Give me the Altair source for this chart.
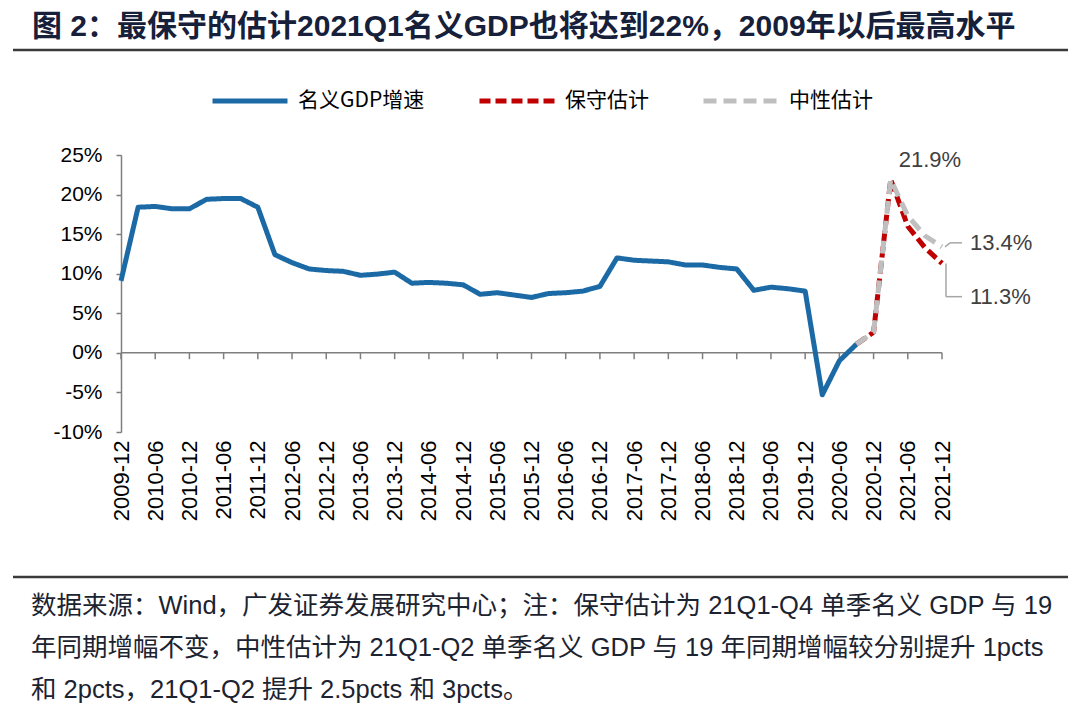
import altair as alt
import pandas as pd

# ---------------- data ----------------
quarters = [f"{y}-{m}" for y in range(2009, 2022) for m in ("03", "06", "09", "12")][3:]  # 2009-12 .. 2021-12
label_q = quarters[::2]

gdp_growth = [9.1, 18.4, 18.5, 18.2, 18.2, 19.4, 19.5, 19.5, 18.4, 12.4,
              11.4, 10.6, 10.4, 10.3, 9.8, 9.95, 10.2, 8.8, 8.9, 8.8,
              8.6, 7.4, 7.6, 7.3, 7.0, 7.5, 7.6, 7.8, 8.4, 12.0,
              11.7, 11.6, 11.5, 11.1, 11.1, 10.8, 10.6, 7.9, 8.3, 8.1,
              7.8, -5.3, -1.0, 1.1]
est_q = quarters[43:]
conservative = [1.1, 2.6, 21.9, 16.0, 13.3, 11.3]
neutral = [1.1, 2.6, 21.9, 17.3, 14.8, 13.4]

series = ["名义GDP增速", "保守估计", "中性估计"]
colors = ["#1B6AA5", "#C00000", "#BFBFBF"]

title_text = "图 2：最保守的估计2021Q1名义GDP也将达到22%，2009年以后最高水平"
note_lines = [
    "数据来源：Wind，广发证券发展研究中心；注：保守估计为 21Q1-Q4 单季名义 GDP 与 19",
    "年同期增幅不变，中性估计为 21Q1-Q2 单季名义 GDP 与 19 年同期增幅较分别提升 1pcts",
    "和 2pcts，21Q1-Q2 提升 2.5pcts 和 3pcts。",
]

# ---------------- tables ----------------
df_blue = pd.DataFrame({"q": quarters[:len(gdp_growth)], "v": gdp_growth, "s": series[0]})
df_red = pd.DataFrame({"q": est_q, "v": conservative, "s": series[1]})
df_gray = pd.DataFrame({"q": est_q, "v": neutral, "s": series[2]})
df_ticks = pd.DataFrame({"q": label_q, "v": 0.0, "v2": -0.8})

FONT = "Liberation Sans, Noto Sans CJK SC"
CJK = "Noto Sans CJK SC, Liberation Sans"

X = alt.X("q:O", title=None,
          scale=alt.Scale(domain=quarters, type="point", padding=0),
          axis=alt.Axis(values=label_q, labelAngle=270, domain=False, ticks=False,
                        labelPadding=8, labelFontSize=22, labelFont=FONT,
                        labelColor="#000000", labelOverlap=False))
Y = alt.Y("v:Q", title=None,
          scale=alt.Scale(domain=[-10, 25], nice=False, zero=False),
          axis=alt.Axis(values=list(range(-10, 30, 5)), labelExpr="datum.value + '%'",
                        grid=False, domainColor="#7F7F7F", domainWidth=1.5,
                        tickColor="#7F7F7F", tickWidth=1.5, tickSize=5,
                        labelFontSize=21, labelFont=FONT, labelColor="#000000",
                        labelPadding=14, labelOverlap=False, labelFlush=False))

legend = alt.Legend(title=None, orient="none", direction="horizontal",
                    legendX=89, legendY=-94, symbolType="stroke",
                    symbolSize=5625, symbolStrokeWidth=5, labelFontSize=21,
                    labelFont=CJK, labelColor="#000000", labelOffset=8,
                    columnPadding=44)
C = alt.Color("s:N", scale=alt.Scale(domain=series, range=colors), legend=legend)
D = alt.StrokeDash("s:N", scale=alt.Scale(domain=series, range=[[1, 0], [11, 5], [13, 7]]),
                   legend=legend)

zero = alt.Chart(pd.DataFrame({"v": [0.0]})).mark_rule(color="#7F7F7F", strokeWidth=1.5).encode(y=Y)
ticks = alt.Chart(df_ticks).mark_rule(color="#7F7F7F", strokeWidth=1.5).encode(x=X, y=Y, y2="v2:Q")

line_kw = dict(strokeWidth=5, strokeJoin="round")
blue = alt.Chart(df_blue).mark_line(**line_kw).encode(x=X, y=Y, color=C, strokeDash=D)
red = alt.Chart(df_red).mark_line(**line_kw).encode(x=X, y=Y, color=C, strokeDash=D)
gray = alt.Chart(df_gray).mark_line(**line_kw).encode(x=X, y=Y, color=C, strokeDash=D)

# annotations
ann_color = "#404040"
hi_level, lo_level = 13.9, 7.1
peak = alt.Chart(pd.DataFrame({"q": [quarters[45]], "v": [neutral[2]], "t": ["21.9%"]})).mark_text(
    align="left", baseline="alphabetic", dx=8, dy=-13, fontSize=22, font=FONT, color=ann_color
).encode(x=X, y=Y, text="t:N")
lab_hi = alt.Chart(pd.DataFrame({"q": [quarters[-1]], "v": [hi_level], "t": ["13.4%"]})).mark_text(
    align="left", baseline="middle", dx=28, fontSize=22, font=FONT, color=ann_color
).encode(x=X, y=Y, text="t:N")
lab_lo = alt.Chart(pd.DataFrame({"q": [quarters[-1]], "v": [lo_level], "t": ["11.3%"]})).mark_text(
    align="left", baseline="middle", dx=28, fontSize=22, font=FONT, color=ann_color
).encode(x=X, y=Y, text="t:N")

lead_kw = dict(color="#A6A6A6", strokeWidth=1.5)
lead_df_hi = pd.DataFrame({"q": [quarters[-1]], "v": [neutral[-1]], "v2": [hi_level]})
lead_df_lo = pd.DataFrame({"q": [quarters[-1]], "v": [conservative[-1]], "v2": [lo_level]})
lead_df_hi_h = pd.DataFrame({"q": [quarters[-1]], "v": [hi_level]})
lead_df_lo_h = pd.DataFrame({"q": [quarters[-1]], "v": [lo_level]})
lead1 = alt.Chart(lead_df_hi).mark_rule(xOffset=3, x2Offset=8, **lead_kw).encode(
    x=X, x2="q:O", y=Y, y2="v2:Q")
lead2 = alt.Chart(lead_df_hi_h).mark_rule(xOffset=8, x2Offset=20, **lead_kw).encode(
    x=X, x2="q:O", y=Y)
lead3 = alt.Chart(lead_df_lo).mark_rule(xOffset=4, x2Offset=4, **lead_kw).encode(
    x=X, x2="q:O", y=Y, y2="v2:Q")
lead4 = alt.Chart(lead_df_lo_h).mark_rule(xOffset=4, x2Offset=20, **lead_kw).encode(
    x=X, x2="q:O", y=Y)

# title, rules, footnote (positions relative to plot origin)
one = pd.DataFrame({"t": [title_text]})
title = alt.Chart(one).mark_text(align="left", baseline="middle", fontSize=30,
                                 fontWeight="bold", font=FONT, color="#17203A").encode(
    text="t:N", x=alt.value(-89), y=alt.value(-128))
rule_top = alt.Chart(one).mark_rule(color="#3A3A3A", strokeWidth=2.5).encode(
    x=alt.value(-108), x2=alt.value(947), y=alt.value(-105))
rule_bot = alt.Chart(one).mark_rule(color="#3A3A3A", strokeWidth=2.5).encode(
    x=alt.value(-108), x2=alt.value(947), y=alt.value(422))

note_layers = []
for i, line in enumerate(note_lines):
    note_layers.append(
        alt.Chart(pd.DataFrame({"t": [line]})).mark_text(
            align="left", baseline="middle", fontSize=25.5, font=FONT, color="#1C2330"
        ).encode(text="t:N", x=alt.value(-90), y=alt.value(451 + 42 * i))
    )

chart = alt.layer(
    zero, ticks, blue, red, gray, lead1, lead2, lead3, lead4, peak, lab_hi, lab_lo,
    title, rule_top, rule_bot, *note_layers
).properties(
    width=821, height=277,
    padding={"left": 113, "top": 147, "right": 130, "bottom": 276},
    autosize=alt.AutoSizeParams(type="none"),
    background="white",
).configure_view(stroke=None)

chart.save("out.html", embed_options={"renderer": "svg", "actions": False})
